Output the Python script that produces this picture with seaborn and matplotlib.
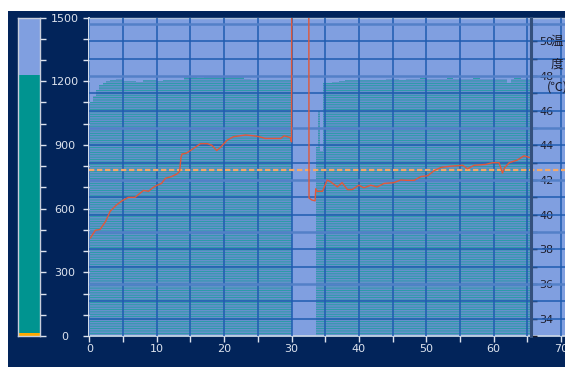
import numpy as np
import pandas as pd
import matplotlib
matplotlib.use("Agg")
import matplotlib.pyplot as plt
from matplotlib.patches import Rectangle
from matplotlib.ticker import MultipleLocator
import seaborn as sns

# ---------------- data ----------------
# filled (left axis, 0-1500) amount over time, stepwise
area_t = [0, 0.5, 1, 1.5, 2, 2.5, 3, 4, 5, 6, 7, 8, 9, 10, 11, 12, 13, 14, 15, 16,
          17, 18, 19, 20, 21, 22, 23, 24, 25, 26, 27, 28, 29, 30, 30.1, 33.6, 33.9,
          34.2, 34.7, 35, 36, 37, 38, 39, 40, 41, 42, 43, 44, 45, 46, 47, 48, 49, 50,
          51, 52, 53, 54, 55, 56, 57, 58, 59, 60, 61, 62, 62.5, 63, 64, 65, 65.5]
area_h = [1100, 1130, 1160, 1180, 1192, 1200, 1208, 1212, 1202, 1200, 1198, 1205, 1206,
          1203, 1207, 1205, 1208, 1218, 1220, 1216, 1220, 1218, 1220, 1222, 1220, 1218,
          1210, 1206, 1208, 1205, 1207, 1206, 1208, 1204, 0, 890, 1060, 870, 1190, 1192,
          1195, 1203, 1204, 1206, 1204, 1207, 1205, 1208, 1210, 1212, 1208, 1212, 1210,
          1213, 1211, 1212, 1210, 1213, 1212, 1210, 1212, 1213, 1211, 1210, 1212, 1211,
          1190, 1211, 1213, 1211, 1212, 1212]

# temperature (right axis, deg C)
temp_t = [0.15, 0.9, 1.6, 2.4, 3.1, 4.0, 4.85, 5.8, 6.8, 7.4, 8.05, 8.8, 9.4, 10.05,
          10.7, 11.3, 12.2, 13.0, 13.4, 13.6, 13.75, 14.4, 15.0, 15.75, 16.5, 17.5,
          18.2, 18.9, 19.5, 20.45, 21.4, 22.3, 23.2, 24.4, 25.2, 26.1, 27.2, 28.4, 28.9,
          29.4, 29.8, 30.0, 30.05, 32.55, 32.6, 33.0, 33.5, 33.6, 33.8, 34.6, 35.3, 35.8,
          36.8, 37.5, 38.3, 39.0, 40.0, 40.75, 41.75, 42.7, 43.7, 45.2, 46.2, 47.2, 48.2,
          49.2, 50.2, 51.2, 52.2, 53.6, 55.4, 56.1, 57.1, 58.8, 59.8, 60.8, 61.3, 61.6,
          62.3, 63.5, 64.5, 65.3]
temp_v = [38.65, 39.1, 39.15, 39.6, 40.2, 40.55, 40.8, 41.0, 41.0, 41.2, 41.4, 41.35,
          41.55, 41.7, 41.8, 42.1, 42.2, 42.35, 42.5, 43.3, 43.5, 43.55, 43.7, 43.9, 44.1,
          44.1, 44.0, 43.7, 43.9, 44.3, 44.5, 44.55, 44.6, 44.55, 44.5, 44.4, 44.4, 44.4,
          44.55, 44.5, 44.45, 44.2, 60.0, 60.0, 40.96, 40.85, 40.8, 41.5, 41.35, 41.35,
          42.0, 41.9, 41.6, 41.85, 41.45, 41.45, 41.7, 41.55, 41.7, 41.6, 41.8, 41.85,
          42.0, 41.98, 41.98, 42.2, 42.25, 42.55, 42.73, 42.8, 42.85, 42.65, 42.85, 42.9,
          43.0, 43.0, 42.4, 42.7, 43.0, 43.15, 43.4, 43.3]

limit_temp = 42.55          # dashed reference line
gauge_total = 1230          # left gauge (teal)
gauge_low = 16              # left gauge (orange)
x_ticks = [0, 10, 20, 30, 40, 50, 60, 70]
left_ticks = [0, 300, 600, 900, 1200, 1500]
right_ticks = [34, 36, 38, 40, 42, 44, 46, 48, 50]
right_label = "温\n度\n(℃)"

# ---------------- style ----------------
NAVY = "#02245a"
LIGHTBLUE = "#809fe0"
TEAL = "#17a09c"
STRIPE = "#6690cc"
GAUGE_TEAL = "#009490"
ORANGE = "#ffa800"
GRID = "#1f5cb0"
GRID3 = "#5380c8"
RED = "#e0583a"
DASH = "#f4a868"
LIGHT = "#dde3ee"
DARK = "#1c1c2a"

sns.set_theme(style="white")
plt.rcParams["font.family"] = ["DejaVu Sans", "Noto Sans CJK JP"]
plt.rcParams["hatch.linewidth"] = 1.2

W, H = 565, 367
fig = plt.figure(figsize=(W / 100, H / 100), dpi=100, facecolor="white")


def fx(px):
    return px / W


def fy(py):
    return 1 - py / H


fig.add_artist(Rectangle((fx(8), 0), 1 - fx(8), fy(11), transform=fig.transFigure,
                         facecolor=NAVY, edgecolor="none", zorder=-10))

# ---- left gauge ----
axg = fig.add_axes([fx(17.5), fy(336), fx(40) - fx(17.5), fy(17.5) - fy(336)])
axg.set_facecolor(LIGHTBLUE)
axg.bar([0], [gauge_total], width=1, color=GAUGE_TEAL, linewidth=0)
axg.bar([0], [gauge_low], width=1, color=ORANGE, linewidth=0)
axg.set_xlim(-0.5, 0.5)
axg.set_ylim(0, 1500)
axg.set_xticks([])
axg.set_yticks(left_ticks)
axg.yaxis.set_minor_locator(MultipleLocator(100))
axg.tick_params(axis="y", which="both", left=False, right=True, labelleft=False,
                labelright=True, direction="out", length=4, width=1, color=LIGHT,
                labelcolor=LIGHT, labelsize=8, pad=14)
for lab in axg.get_yticklabels():
    lab.set_horizontalalignment("center")
for s in axg.spines.values():
    s.set_color("#c8cedc")
    s.set_linewidth(1)

# ---- main axes ----
ax = fig.add_axes([fx(89.3), fy(336), 1 - fx(89.3), fy(17.5) - fy(336)])
ax.set_facecolor(LIGHTBLUE)
ax.fill_between(area_t, 0, area_h, step="post", facecolor=TEAL, edgecolor=STRIPE,
                hatch="-------", linewidth=0, zorder=1)
ax.set_xlim(0, (W - 89.3) / 6.74)
ax.set_ylim(0, 1500)
ax.set_xticks(x_ticks)
ax.xaxis.set_minor_locator(MultipleLocator(5))
ax.set_yticks(left_ticks)
ax.yaxis.set_minor_locator(MultipleLocator(100))
ax.set_axisbelow(False)
ax.grid(True, which="both", axis="x", color=GRID, linewidth=1.1, zorder=2.5)
ax.grid(False, axis="y")
ax.tick_params(axis="x", which="both", bottom=True, direction="out", length=4, width=1,
               color=LIGHT, labelcolor=LIGHT, labelsize=8, pad=2)
ax.tick_params(axis="y", which="both", left=True, labelleft=False, direction="out",
               length=4, width=1, color=LIGHT)
ax.spines["left"].set_color("#e8eef8")
ax.spines["left"].set_linewidth(1.3)
ax.spines["bottom"].set_color("#c6d4e6")
ax.spines["bottom"].set_linewidth(1.3)
ax.spines["top"].set_color("#aebfd8")
ax.spines["top"].set_linewidth(1)
ax.spines["right"].set_visible(False)

# ---- right temperature axis ----
ax2 = ax.twinx()
ax2.set_axisbelow(True)
for t in np.arange(34, 52):
    if t % 3 == 0:
        ax2.axhline(t, color=GRID3, linewidth=1.8, zorder=0.6)
    else:
        ax2.axhline(t, color=GRID, linewidth=1.1, zorder=0.6)

ax2.axhline(limit_temp, color=DASH, linewidth=1.6, dashes=(2.4, 1.2), zorder=1.5)
df = pd.DataFrame({"t": temp_t, "T": temp_v})
sns.lineplot(data=df, x="t", y="T", ax=ax2, color=RED, linewidth=1.0,
             estimator=None, sort=False, zorder=3)
ax2.set_xlabel("")
ax2.set_ylabel("")
ax2.set_ylim(33, 33 + 318.5 / 17.33)
ax2.set_xlim(0, (W - 89.3) / 6.74)
ax2.set_yticks(right_ticks)
ax2.yaxis.set_minor_locator(MultipleLocator(1))
ax2.grid(False)
ax2.spines["right"].set_position(("data", 65.5))
ax2.spines["right"].set_color("#34507c")
ax2.spines["right"].set_linewidth(2.2)
for k in ["left", "top", "bottom"]:
    ax2.spines[k].set_visible(False)
ax2.tick_params(axis="y", which="both", right=True, direction="out", length=4, width=1,
                color=DARK, labelcolor=DARK, labelsize=8, pad=2)

fig.text(fx(557), fy(35), right_label, ha="center", va="top", fontsize=9,
         color=DARK, linespacing=2.0,
         family=["Noto Sans CJK JP", "DejaVu Sans"])

fig.savefig("out.png", dpi=100, facecolor="white")
